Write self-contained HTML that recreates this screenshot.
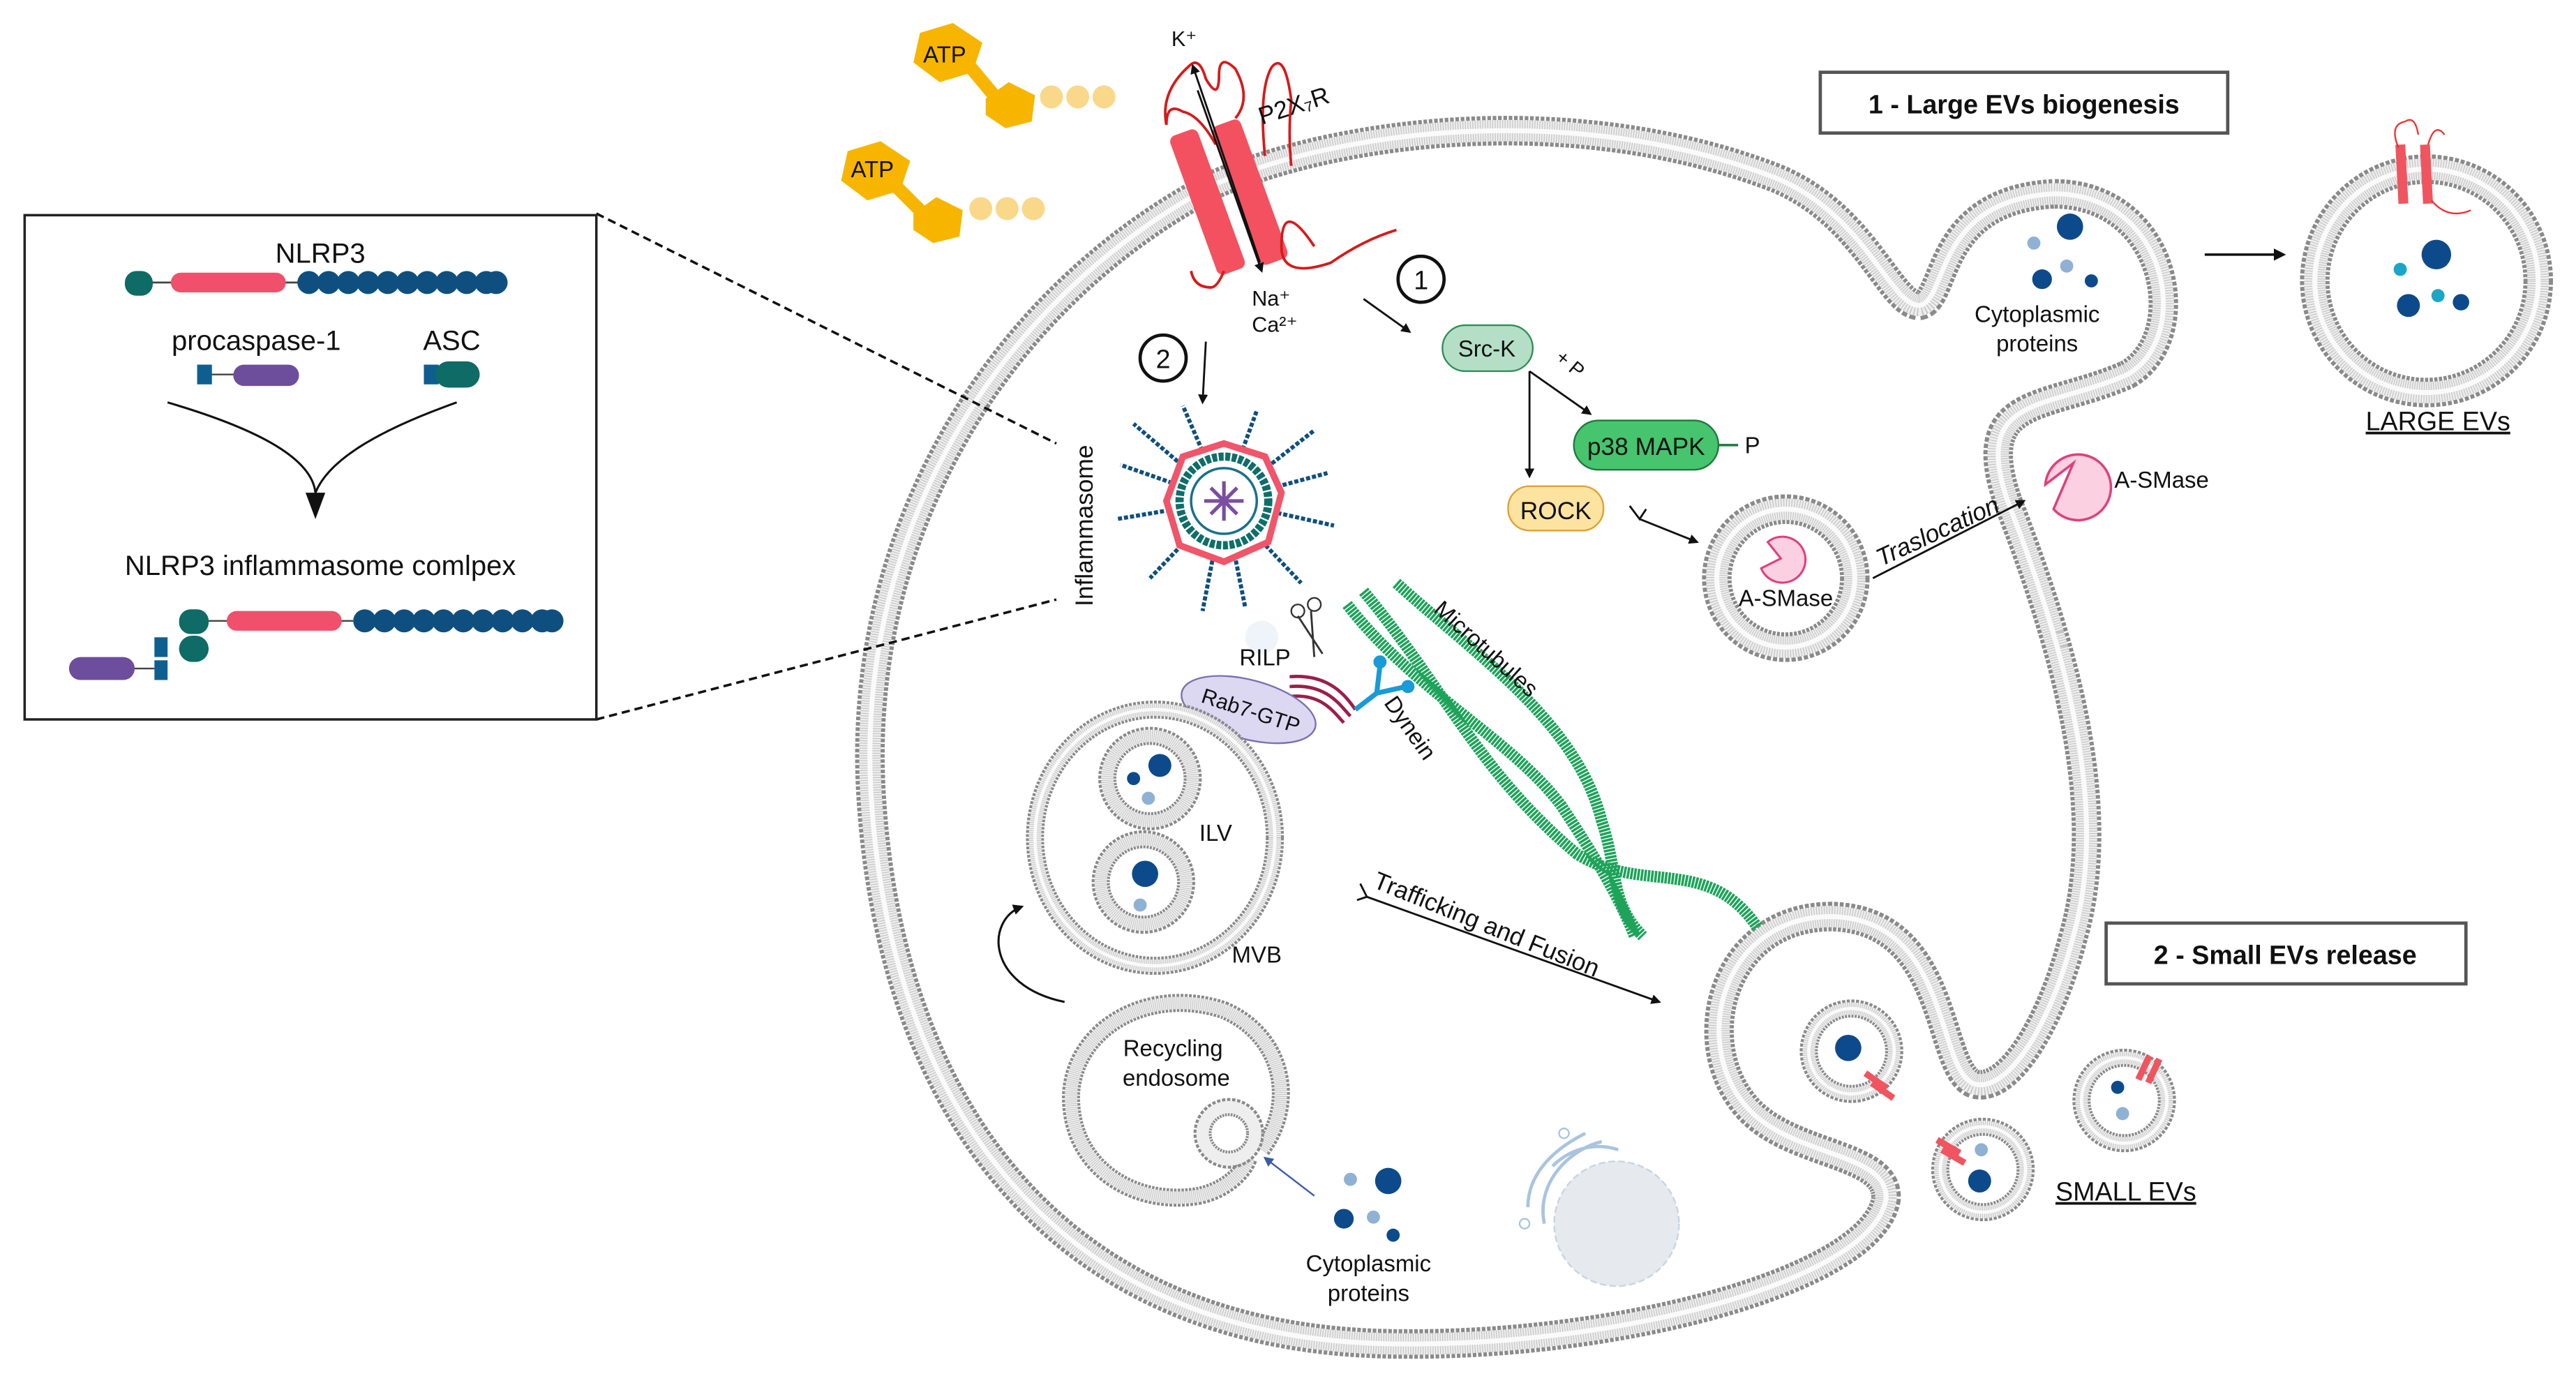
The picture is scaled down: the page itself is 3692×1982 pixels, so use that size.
<!DOCTYPE html>
<html><head><meta charset="utf-8"><style>
html,body{margin:0;padding:0;background:#fff}
svg{display:block}
text{font-family:"Liberation Sans",sans-serif;fill:#111}
.m1{fill:none;stroke:#8a8a8a;stroke-width:18;stroke-dasharray:2.2 1}
.m2{fill:none;stroke:#eeeeee;stroke-width:13}
.m3{fill:none;stroke:#c4c4c4;stroke-width:13;stroke-dasharray:.5 1}
.m4{fill:none;stroke:#fafafa;stroke-width:3}
.s1{fill:none;stroke:#8a8a8a;stroke-width:11;stroke-dasharray:1.6 .8}
.s2{fill:none;stroke:#eeeeee;stroke-width:7.5}
.s3{fill:none;stroke:#c4c4c4;stroke-width:7.5;stroke-dasharray:.4 .8}
.s4{fill:none;stroke:#fafafa;stroke-width:2}
</style></head><body>
<svg width="3692" height="1982" viewBox="0 0 1568 842" preserveAspectRatio="none" xmlns="http://www.w3.org/2000/svg">
<defs>
<marker id="ah" viewBox="0 0 10 10" refX="8" refY="5" markerWidth="5" markerHeight="5" orient="auto"><path d="M0,0 L10,5 L0,10 z" fill="#111"/></marker>
<marker id="ahb" viewBox="0 0 10 10" refX="8" refY="5" markerWidth="6" markerHeight="6" orient="auto"><path d="M0,0 L10,5 L0,10 z" fill="#3a5aa8"/></marker>
<path id="cell" d="M740 112 C820 78 960 62 1080 108 C1135 130 1150 185 1168 186 C1186 184 1176 122 1250 118 C1320 118 1335 205 1295 228 C1245 250 1200 240 1222 305 C1255 390 1285 490 1262 570 C1248 625 1222 665 1202 660 C1178 652 1188 560 1115 558 C1050 558 1030 630 1060 670 C1085 705 1150 700 1148 730 C1140 780 980 822 840 818 C640 812 540 670 530 480 C522 320 610 180 740 112 Z"/>
<path id="rec" d="M768 700 C790 670 780 630 745 615 C700 600 655 625 652 665 C650 710 690 735 730 728 C748 724 758 712 760 705"/>
</defs>

<use href="#cell" class="m1"/><use href="#cell" class="m2"/><use href="#cell" class="m3"/><use href="#cell" class="m4"/>

<g><circle cx="1477" cy="171" r="68" class="m1"/><circle cx="1477" cy="171" r="68" class="m2"/><circle cx="1477" cy="171" r="68" class="m3"/><circle cx="1477" cy="171" r="68" class="m4"/></g>
<rect x="1459" y="88" width="6" height="36" fill="#f0555f" transform="rotate(-3 1462 106)"/>
<rect x="1474" y="88" width="6" height="36" fill="#f0555f" transform="rotate(-3 1477 106)"/>
<path d="M1460 90 q-6-14 4-16 q6-4 8 8 M1478 88 q4-14 10-6 M1480 122 q10 12 24 6" stroke="#e33" fill="none" stroke-width="1"/>
<circle cx="1483" cy="155" r="9" fill="#0d4a8c"/><circle cx="1466" cy="186" r="7" fill="#0d4a8c"/><circle cx="1461" cy="164" r="4" fill="#1aa6c8"/><circle cx="1484" cy="180" r="4" fill="#1aa6c8"/><circle cx="1498" cy="184" r="5" fill="#0d4a8c"/>
<text x="1484" y="262" font-size="16" text-anchor="middle" text-decoration="underline">LARGE EVs</text>
<line x1="1342" y1="155" x2="1390" y2="155" stroke="#111" stroke-width="1.5" marker-end="url(#ah)"/>

<circle cx="1260" cy="138" r="8" fill="#0d4a8c"/><circle cx="1238" cy="148" r="4" fill="#8fb2d4"/><circle cx="1243" cy="170" r="6" fill="#0d4a8c"/><circle cx="1258" cy="162" r="4" fill="#8fb2d4"/><circle cx="1273" cy="171" r="4" fill="#0d4a8c"/>
<text x="1240" y="196" font-size="14" text-anchor="middle">Cytoplasmic</text>
<text x="1240" y="214" font-size="14" text-anchor="middle">proteins</text>

<rect x="1108" y="44" width="248" height="37" fill="#fff" stroke="#555" stroke-width="2"/>
<text x="1232" y="69" font-size="16" font-weight="bold" text-anchor="middle">1 - Large EVs biogenesis</text>
<rect x="1282" y="562" width="219" height="37" fill="#fff" stroke="#555" stroke-width="2"/>
<text x="1391" y="587" font-size="16" font-weight="bold" text-anchor="middle">2 - Small EVs release</text>

<g fill="#f7b500">
<polygon points="560,20 580,14 598,26 592,44 572,50 556,38"/>
<polygon points="600,60 614,50 630,58 628,74 612,78 600,70"/>
<path d="M590 40 L605 58" stroke="#f7b500" stroke-width="8"/>
<polygon points="516,92 536,86 554,98 548,116 528,122 512,110"/>
<polygon points="556,130 570,120 586,128 584,144 568,148 556,140"/>
<path d="M546 114 L562 130" stroke="#f7b500" stroke-width="8"/>
</g>
<g fill="#fad88a"><circle cx="640" cy="59" r="7"/><circle cx="656" cy="59" r="7"/><circle cx="672" cy="59" r="7"/><circle cx="597" cy="127" r="7"/><circle cx="613" cy="127" r="7"/><circle cx="629" cy="127" r="7"/></g>
<text x="575" y="38" font-size="14" text-anchor="middle">ATP</text>
<text x="531" y="108" font-size="14" text-anchor="middle">ATP</text>

<path d="M740 88 q-10-18-20-20 q-10-6-10 8 q-4-20 14-36 q6-6 10 8 q8 14 8-2 q0-14 10-4 q10 18 0 30 M770 95 q-4-40 4-54 q8-10 12 20 q-2 20 0 40" stroke="#d61a1a" fill="none" stroke-width="1.6"/>
<rect x="726" y="78" width="18" height="90" rx="4" fill="#f3515f" transform="rotate(-20 735 123)"/>
<rect x="752" y="72" width="18" height="90" rx="4" fill="#f3515f" transform="rotate(-20 761 117)"/>
<path d="M745 165 q-4 10 -8 10 q-10 0 -12-10 M800 150 q-20-30 -20 0 q0 20 30 10 q20-14 40-20" stroke="#d61a1a" fill="none" stroke-width="1.6"/>
<line x1="767" y1="160" x2="726" y2="40" stroke="#111" stroke-width="1.2" marker-end="url(#ah)"/>
<line x1="729" y1="55" x2="768" y2="165" stroke="#111" stroke-width="1.2" marker-end="url(#ah)"/>
<text x="713" y="28" font-size="13">K⁺</text>
<text x="768" y="76" font-size="15" transform="rotate(-18 768 76)">P2X₇R</text>
<text x="762" y="186" font-size="13">Na⁺</text>
<text x="762" y="202" font-size="13">Ca²⁺</text>

<circle cx="865" cy="170" r="14" fill="#fff" stroke="#111" stroke-width="2"/><text x="865" y="176" font-size="16" text-anchor="middle">1</text>
<circle cx="708" cy="218" r="14" fill="#fff" stroke="#111" stroke-width="2"/><text x="708" y="224" font-size="16" text-anchor="middle">2</text>
<line x1="830" y1="182" x2="858" y2="202" stroke="#111" stroke-width="1.2" marker-end="url(#ah)"/>
<line x1="734" y1="208" x2="732" y2="245" stroke="#111" stroke-width="1.2" marker-end="url(#ah)"/>

<rect x="878" y="198" width="55" height="28" rx="14" fill="#b4dfc6" stroke="#2f8f55" stroke-width="1"/>
<text x="905" y="217" font-size="14" text-anchor="middle">Src-K</text>
<text x="945" y="222" font-size="12" transform="rotate(40 950 222)">+ P</text>
<path d="M931 226 L931 290" stroke="#111" stroke-width="1.2" marker-end="url(#ah)"/>
<path d="M931 226 L968 252" stroke="#111" stroke-width="1.2" marker-end="url(#ah)"/>
<rect x="958" y="256" width="88" height="30" rx="15" fill="#46c46e" stroke="#1e7a3c" stroke-width="1"/>
<text x="1002" y="277" font-size="15" text-anchor="middle">p38 MAPK</text>
<line x1="1046" y1="271" x2="1058" y2="271" stroke="#1e7a3c" stroke-width="1.5"/>
<text x="1062" y="276" font-size="14">P</text>
<rect x="918" y="296" width="58" height="27" rx="13" fill="#fde3a0" stroke="#e0a030" stroke-width="1"/>
<text x="947" y="316" font-size="15" text-anchor="middle">ROCK</text>
<path d="M992 308 L998 316 L1002 310 M998 316 L1033 330" stroke="#111" stroke-width="1.2" fill="none" marker-end="url(#ah)"/>

<circle cx="1087" cy="352" r="42" class="m1"/><circle cx="1087" cy="352" r="42" class="m2"/><circle cx="1087" cy="352" r="42" class="m3"/><circle cx="1087" cy="352" r="42" class="m4"/>
<path d="M1084 340 L1076 330 A14 14 0 1 1 1072 346 Z" fill="#fbd0e0" stroke="#e0407a" stroke-width="1.3"/>
<text x="1087" y="369" font-size="14" text-anchor="middle">A-SMase</text>
<line x1="1140" y1="352" x2="1232" y2="305" stroke="#111" stroke-width="1.2" marker-end="url(#ah)"/>
<text x="1145" y="345" font-size="15" font-style="italic" transform="rotate(-25 1145 345)">Traslocation</text>
<path d="M1262 282 L1245 295 A20 20 0 1 1 1250 310 Z" fill="#fbd0e0" stroke="#e0407a" stroke-width="1.5"/>
<text x="1287" y="297" font-size="14">A-SMase</text>

<g stroke="#0e4f80" stroke-width="2.5" stroke-dasharray="2.5 1.2">
<line x1="745" y1="305" x2="690" y2="258"/><line x1="745" y1="305" x2="720" y2="247"/><line x1="745" y1="305" x2="765" y2="250"/><line x1="745" y1="305" x2="800" y2="262"/><line x1="745" y1="305" x2="808" y2="288"/><line x1="745" y1="305" x2="812" y2="320"/><line x1="745" y1="305" x2="792" y2="355"/><line x1="745" y1="305" x2="758" y2="370"/><line x1="745" y1="305" x2="732" y2="372"/><line x1="745" y1="305" x2="700" y2="352"/><line x1="745" y1="305" x2="680" y2="316"/><line x1="745" y1="305" x2="682" y2="283"/>
</g>
<polygon points="745,270 770,278 780,300 772,330 745,342 718,332 710,305 720,278" fill="#fff" stroke="#f0556a" stroke-width="4"/>
<circle cx="745" cy="305" r="27" fill="none" stroke="#0f6e6a" stroke-width="5" stroke-dasharray="3 1"/>
<circle cx="745" cy="305" r="20" fill="#fff" stroke="#1a7090" stroke-width="1.5"/>
<g stroke="#7a4ea0" stroke-width="2.2"><line x1="733" y1="305" x2="757" y2="305"/><line x1="745" y1="293" x2="745" y2="317"/><line x1="737" y1="297" x2="753" y2="313"/><line x1="753" y1="297" x2="737" y2="313"/></g>
<text x="665" y="320" font-size="15" transform="rotate(-90 665 320)" text-anchor="middle">Inflammasome</text>
<path d="M363 130 L643 270 M363 438 L643 365" stroke="#111" stroke-width="1.5" stroke-dasharray="5 3" fill="none"/>

<rect x="15" y="131" width="348" height="307" fill="#fff" stroke="#222" stroke-width="1.5"/>
<text x="195" y="160" font-size="17" text-anchor="middle">NLRP3</text>
<line x1="85" y1="172" x2="185" y2="172" stroke="#444" stroke-width="1.2"/>
<rect x="76" y="165" width="17" height="15" rx="7" fill="#0e6b66"/>
<rect x="104" y="166" width="70" height="12" rx="6" fill="#f0506c"/>
<g fill="#0e4f80"><circle cx="188" cy="172" r="7"/><circle cx="200" cy="172" r="7"/><circle cx="212" cy="172" r="7"/><circle cx="224" cy="172" r="7"/><circle cx="236" cy="172" r="7"/><circle cx="248" cy="172" r="7"/><circle cx="260" cy="172" r="7"/><circle cx="272" cy="172" r="7"/><circle cx="284" cy="172" r="7"/><circle cx="296" cy="172" r="7"/><circle cx="302" cy="172" r="7"/></g>
<text x="156" y="213" font-size="17" text-anchor="middle">procaspase-1</text>
<text x="275" y="213" font-size="17" text-anchor="middle">ASC</text>
<line x1="125" y1="228" x2="150" y2="228" stroke="#444"/><rect x="120" y="222" width="9" height="12" fill="#0e5f90"/><rect x="142" y="222" width="40" height="13" rx="6.5" fill="#6d4e9c"/>
<rect x="258" y="222" width="9" height="12" fill="#0e5f90"/><rect x="265" y="220" width="27" height="16" rx="8" fill="#0e6b66"/>
<path d="M102 245 C160 262 190 280 192 300 M278 245 C230 262 200 280 192 300" stroke="#111" stroke-width="1.3" fill="none"/>
<polygon points="186,300 198,300 192,316" fill="#111"/>
<text x="195" y="350" font-size="17" text-anchor="middle">NLRP3 inflammasome comlpex</text>
<line x1="125" y1="378" x2="215" y2="378" stroke="#444"/>
<rect x="109" y="371" width="18" height="15" rx="7" fill="#0e6b66"/>
<rect x="138" y="372" width="70" height="12" rx="6" fill="#f0506c"/>
<g fill="#0e4f80"><circle cx="222" cy="378" r="7"/><circle cx="234" cy="378" r="7"/><circle cx="246" cy="378" r="7"/><circle cx="258" cy="378" r="7"/><circle cx="270" cy="378" r="7"/><circle cx="282" cy="378" r="7"/><circle cx="294" cy="378" r="7"/><circle cx="306" cy="378" r="7"/><circle cx="318" cy="378" r="7"/><circle cx="330" cy="378" r="7"/><circle cx="336" cy="378" r="7"/></g>
<rect x="109" y="387" width="18" height="16" rx="8" fill="#0e6b66"/>
<rect x="94" y="388" width="8" height="12" fill="#0e5f90"/><rect x="94" y="402" width="8" height="12" fill="#0e5f90"/>
<line x1="80" y1="407" x2="94" y2="407" stroke="#444"/>
<rect x="42" y="400" width="40" height="14" rx="7" fill="#6d4e9c"/>

<g fill="none" stroke="#1ea35a" stroke-width="7" stroke-dasharray="1.5 .6">
<path d="M830 360 C880 420 900 470 960 520 C1000 545 1040 520 1070 565"/>
<path d="M850 355 C900 400 960 440 975 500 C985 530 980 550 1000 570"/>
<path d="M820 368 C860 420 920 450 950 490 C970 520 985 545 995 570"/>
</g>
<text x="872" y="372" font-size="14" transform="rotate(42 872 372)">Microtubules</text>
<text x="842" y="428" font-size="14" transform="rotate(55 842 428)">Dynein</text>
<circle cx="768" cy="388" r="10" fill="#eef4fa"/>
<text x="770" y="405" font-size="14" text-anchor="middle">RILP</text>
<path d="M790 375 L805 398 M798 372 L800 400" stroke="#333" stroke-width="1.2"/><circle cx="790" cy="372" r="4" fill="none" stroke="#333"/><circle cx="800" cy="368" r="4" fill="none" stroke="#333"/>
<path d="M785 412 C810 410 820 425 825 432 M785 418 C808 416 816 430 822 436 M785 424 C805 422 812 434 818 440" stroke="#9a1f4a" stroke-width="2" fill="none"/>
<path d="M825 432 L838 422 L840 405 M838 422 L856 418" stroke="#1a9ad6" stroke-width="3" fill="none"/><circle cx="840" cy="403" r="4" fill="#1a9ad6"/><circle cx="857" cy="418" r="4" fill="#1a9ad6"/>
<ellipse cx="760" cy="432" rx="42" ry="18" fill="#dcd8f2" stroke="#7a70b0" stroke-width="1" transform="rotate(15 760 432)"/>
<text x="760" y="437" font-size="13" text-anchor="middle" transform="rotate(18 760 437)">Rab7-GTP</text>

<g><ellipse cx="703" cy="510" rx="73" ry="78" class="s1"/><ellipse cx="703" cy="510" rx="73" ry="78" class="s2"/><ellipse cx="703" cy="510" rx="73" ry="78" class="s3"/><ellipse cx="703" cy="510" rx="73" ry="78" class="s4"/></g>
<g><circle cx="700" cy="474" r="26" class="s1"/><circle cx="700" cy="474" r="26" class="s2"/><circle cx="700" cy="474" r="26" class="s3"/></g>
<g><circle cx="696" cy="537" r="26" class="s1"/><circle cx="696" cy="537" r="26" class="s2"/><circle cx="696" cy="537" r="26" class="s3"/></g>
<circle cx="706" cy="466" r="7" fill="#0d4a8c"/><circle cx="690" cy="474" r="4" fill="#0d4a8c"/><circle cx="699" cy="486" r="4" fill="#8fb2d4"/>
<circle cx="697" cy="532" r="8" fill="#0d4a8c"/><circle cx="694" cy="551" r="4" fill="#8fb2d4"/>
<text x="740" y="512" font-size="14" text-anchor="middle">ILV</text>
<text x="765" y="586" font-size="14" text-anchor="middle">MVB</text>
<path d="M648 610 C600 600 600 560 622 552" stroke="#111" stroke-width="1.3" fill="none" marker-end="url(#ah)"/>

<g><use href="#rec" class="s1"/><use href="#rec" class="s2"/><use href="#rec" class="s3"/></g>
<g><circle cx="748" cy="690" r="16" class="s1"/><circle cx="748" cy="690" r="16" class="s2"/></g>
<text x="714" y="643" font-size="14" text-anchor="middle">Recycling</text>
<text x="716" y="661" font-size="14" text-anchor="middle">endosome</text>
<line x1="800" y1="728" x2="770" y2="705" stroke="#3a5aa8" stroke-width="1" marker-end="url(#ahb)"/>
<circle cx="822" cy="718" r="4" fill="#8fb2d4"/><circle cx="845" cy="719" r="8" fill="#0d4a8c"/><circle cx="818" cy="742" r="6" fill="#0d4a8c"/><circle cx="836" cy="741" r="4" fill="#8fb2d4"/><circle cx="848" cy="752" r="4" fill="#0d4a8c"/>
<text x="833" y="774" font-size="14" text-anchor="middle">Cytoplasmic</text>
<text x="833" y="792" font-size="14" text-anchor="middle">proteins</text>

<path d="M828 538 L832 546 L826 548 M832 546 L1010 610" stroke="#111" stroke-width="1.2" fill="none" marker-end="url(#ah)"/>
<text x="835" y="540" font-size="15" transform="rotate(22 835 540)">Trafficking and  Fusion</text>

<circle cx="984" cy="745" r="38" fill="#e6e9ed" stroke="#c5d5e5" stroke-dasharray="4 2"/>
<path d="M940 745 C935 720 955 700 975 695 M930 735 C930 715 945 700 965 690 M945 710 C955 700 970 695 985 700" stroke="#a9c4e0" stroke-width="2" fill="none"/>
<circle cx="928" cy="745" r="3" fill="none" stroke="#a9c4e0"/><circle cx="952" cy="690" r="3" fill="none" stroke="#a9c4e0"/>

<g><circle cx="1127" cy="640" r="26" class="s1"/><circle cx="1127" cy="640" r="26" class="s2"/><circle cx="1127" cy="640" r="26" class="s3"/><circle cx="1127" cy="640" r="26" class="s4"/></g>
<g><circle cx="1207" cy="712" r="26" class="s1"/><circle cx="1207" cy="712" r="26" class="s2"/><circle cx="1207" cy="712" r="26" class="s3"/><circle cx="1207" cy="712" r="26" class="s4"/></g>
<g><circle cx="1293" cy="670" r="26" class="s1"/><circle cx="1293" cy="670" r="26" class="s2"/><circle cx="1293" cy="670" r="26" class="s3"/><circle cx="1293" cy="670" r="26" class="s4"/></g>
<circle cx="1125" cy="638" r="8" fill="#0d4a8c"/><circle cx="1205" cy="719" r="7" fill="#0d4a8c"/><circle cx="1206" cy="700" r="4" fill="#8fb2d4"/><circle cx="1289" cy="662" r="4" fill="#0d4a8c"/><circle cx="1292" cy="678" r="4" fill="#8fb2d4"/>
<g fill="#f0555f"><rect x="1140" y="650" width="4" height="16" transform="rotate(-55 1142 658)"/><rect x="1144" y="656" width="4" height="16" transform="rotate(-55 1146 664)"/><rect x="1184" y="690" width="4" height="16" transform="rotate(-60 1186 698)"/><rect x="1187" y="696" width="4" height="16" transform="rotate(-60 1189 704)"/><rect x="1303" y="642" width="4" height="16" transform="rotate(25 1305 650)"/><rect x="1309" y="644" width="4" height="16" transform="rotate(25 1311 652)"/></g>
<text x="1294" y="731" font-size="16" text-anchor="middle" text-decoration="underline">SMALL EVs</text>
</svg>
</body></html>
